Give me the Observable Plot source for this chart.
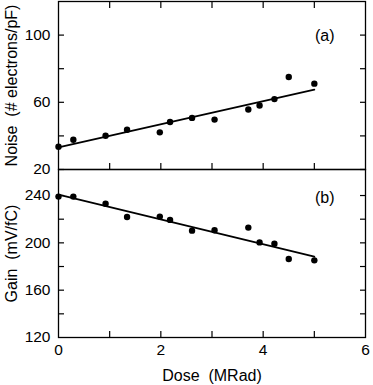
<!DOCTYPE html>
<html>
<head>
<meta charset="utf-8">
<script src="https://cdn.jsdelivr.net/npm/d3@7"></script>
<script src="https://cdn.jsdelivr.net/npm/@observablehq/plot@0.6"></script>
<style>
  html, body { margin: 0; padding: 0; background: white; }
  #wrap { position: relative; width: 373px; height: 385px; }
  #wrap svg { position: absolute; left: 0; top: 0; }
</style>
</head>
<body>
<div id="wrap"></div>
<script>
// Data
const dose = [0, 0.29, 0.92, 1.34, 1.98, 2.18, 2.61, 3.05, 3.71, 3.93, 4.22, 4.5, 5.0];
const noise = [33.5, 37.7, 40.1, 43.7, 42.1, 48.3, 50.7, 49.7, 55.7, 58.1, 61.9, 75.1, 71.1];
const gain = [239.1, 239.1, 233.0, 221.9, 222.2, 219.4, 210.3, 210.6, 212.9, 200.4, 199.3, 186.4, 185.2];
const fitDose = [0, 5];
const fitNoise = [33.1, 67.5];
const fitGain = [240.8, 188.3];
const noiseTicks = [20, 40, 60, 80, 100];
const noiseLabels = [20, 60, 100];
const gainTicks = [140, 160, 180, 200, 220, 240];
const gainLabels = [120, 160, 200, 240];
const doseTicks = [1, 2, 3, 4, 5];
const doseLabels = [0, 2, 4, 6];
const noiseTitle = "Noise  (# electrons/pF)";
const gainTitle = "Gain  (mV/fC)";
const doseTitle = "Dose  (MRad)";

const noisePts = dose.map((d, i) => ({dose: d, v: noise[i]}));
const gainPts = dose.map((d, i) => ({dose: d, v: gain[i]}));
const noiseFit = fitDose.map((d, i) => ({dose: d, v: fitNoise[i]}));
const gainFit = fitDose.map((d, i) => ({dose: d, v: fitGain[i]}));

const W = 373, H = 385;
const font = "'Liberation Sans', Arial, Helvetica, sans-serif";
const blank = () => "";
const common = {
  width: W, height: H, marginLeft: 58, marginRight: 8,
  style: {background: "transparent", fontFamily: font, fontSize: "15px", color: "black", overflow: "visible"},
  x: {domain: [0, 6]}
};

const topPanel = Plot.plot({
  ...common,
  marginTop: 1, marginBottom: 216,
  y: {domain: [20, 120]},
  marks: [
    Plot.frame({stroke: "black", strokeWidth: 1.3}),
    Plot.axisY(noiseTicks, {anchor: "left", tickSize: -6, tickFormat: blank, label: null, strokeWidth: 1.2}),
    Plot.axisY(noiseTicks, {anchor: "right", tickSize: -6, tickFormat: blank, label: null, strokeWidth: 1.2}),
    Plot.axisY(noiseLabels, {anchor: "left", tickSize: 0, tickPadding: 8, label: null, fontSize: 15.5}),
    Plot.axisX(doseTicks, {anchor: "top", tickSize: -6, tickFormat: blank, label: null, strokeWidth: 1.2}),
    Plot.axisX(doseTicks, {anchor: "bottom", tickSize: -6, tickFormat: blank, label: null, strokeWidth: 1.2}),
    Plot.line(noiseFit, {x: "dose", y: "v", stroke: "black", strokeWidth: 1.8}),
    Plot.dot(noisePts, {x: "dose", y: "v", r: 3.2, fill: "black"}),
    Plot.text(["(a)"], {frameAnchor: "top-right", text: d => d, dx: -31, dy: 34, textAnchor: "end", lineAnchor: "middle", fontSize: 16}),
    Plot.text([noiseTitle], {frameAnchor: "left", text: d => d, rotate: -90, dx: -47, textAnchor: "middle", lineAnchor: "middle", fontSize: 16})
  ]
});

const bottomPanel = Plot.plot({
  ...common,
  marginTop: 169, marginBottom: 48,
  y: {domain: [120, 262]},
  marks: [
    Plot.frame({stroke: "black", strokeWidth: 1.3}),
    Plot.axisY(gainTicks, {anchor: "left", tickSize: -6, tickFormat: blank, label: null, strokeWidth: 1.2}),
    Plot.axisY(gainTicks, {anchor: "right", tickSize: -6, tickFormat: blank, label: null, strokeWidth: 1.2}),
    Plot.axisY(gainLabels, {anchor: "left", tickSize: 0, tickPadding: 8, label: null, fontSize: 15.5}),
    Plot.axisX(doseTicks, {anchor: "bottom", tickSize: -6, tickFormat: blank, label: null, strokeWidth: 1.2}),
    Plot.axisX(doseLabels, {anchor: "bottom", tickSize: 0, tickPadding: 6, label: null, fontSize: 15.5}),
    Plot.line(gainFit, {x: "dose", y: "v", stroke: "black", strokeWidth: 1.8}),
    Plot.dot(gainPts, {x: "dose", y: "v", r: 3.2, fill: "black"}),
    Plot.text(["(b)"], {frameAnchor: "top-right", text: d => d, dx: -31, dy: 28, textAnchor: "end", lineAnchor: "middle", fontSize: 16}),
    Plot.text([gainTitle], {frameAnchor: "left", text: d => d, rotate: -90, dx: -47, textAnchor: "middle", lineAnchor: "middle", fontSize: 16}),
    Plot.text([doseTitle], {frameAnchor: "bottom", text: d => d, dy: 38, lineAnchor: "middle", fontSize: 16})
  ]
});

const wrap = document.getElementById("wrap");
wrap.appendChild(bottomPanel);
wrap.appendChild(topPanel);
</script>
</body>
</html>
